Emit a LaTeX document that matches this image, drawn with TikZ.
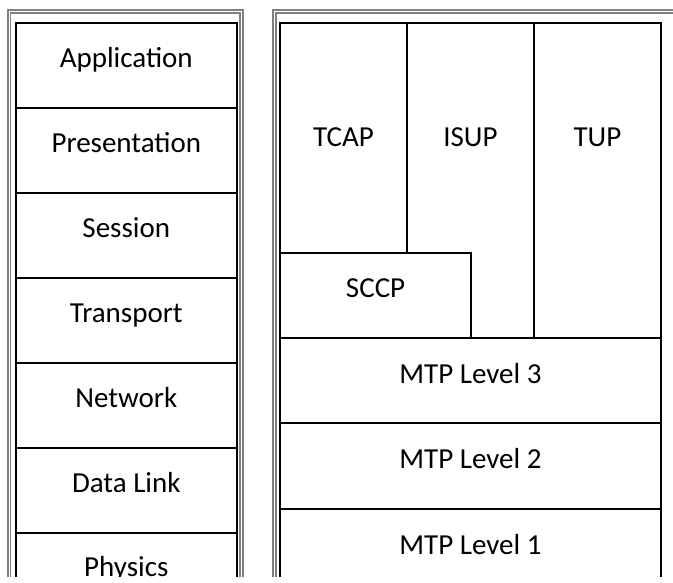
\documentclass[tikz,border=0pt]{standalone}
\usepackage{fontspec}
\setmainfont{Carlito}
\begin{document}
\begin{tikzpicture}[x=1pt,y=-1pt,
  frame/.style={draw=gray,line width=2pt,double=white,double distance=0.8pt},
  layerbox/.style={draw=black,line width=2pt},
  lbl/.style={anchor=base,inner sep=0pt,font=\fontsize{29}{34}\selectfont}]
\useasboundingbox (0,0) rectangle (673,582);
\fill[white] (0,0) rectangle (673,582);
\begin{scope}
\clip (0,0) rectangle (673,576.5);
% outer frames
\draw[frame] (9,600) -- (9,11.8) -- (241.7,11.8) -- (241.7,600);
\draw[frame] (274.3,600) -- (274.3,11.8) -- (690,11.8);
% left column (OSI)
\draw[layerbox] (15.7,600) -- (15.7,23) -- (237,23) -- (237,600);
\foreach \k in {1,...,6} {
  \draw[layerbox] (15.7,{23+85.05*\k}) -- (237,{23+85.05*\k});
}
% right column (SS7)
\draw[layerbox] (280.3,600) -- (280.3,23) -- (660.7,23) -- (660.7,600);
\draw[layerbox] (406.7,23) -- (406.7,253);
\draw[layerbox] (534,23) -- (534,337.7);
\draw[layerbox] (280.3,253) -- (471,253) -- (471,337.7);
\draw[layerbox] (280.3,337.7) -- (660.7,337.7);
\draw[layerbox] (280.3,423.3) -- (660.7,423.3);
\draw[layerbox] (280.3,509) -- (660.7,509);
% labels
\node[lbl] (app) at (126.3,67) {Application};
\node[lbl] (pre) at (126.3,152) {Presentation};
\node[lbl] (ses) at (126.3,237) {Session};
\node[lbl] (tra) at (126.3,322) {Transport};
\node[lbl] (net) at (126.3,407.5) {Network};
\node[lbl] (dl) at (126.3,492.5) {Data Link};
\node[lbl] (phy) at (126.3,576) {Physics};
\node[lbl] (tcap) at (343.5,146) {TCAP};
\node[lbl] (isup) at (470.4,146) {ISUP};
\node[lbl] (tup) at (597.4,146) {TUP};
\node[lbl] (sccp) at (375.6,297) {SCCP};
\node[lbl] (mtp3) at (470.5,383) {MTP Level 3};
\node[lbl] (mtp2) at (470.5,468.5) {MTP Level 2};
\node[lbl] (mtp1) at (470.5,554) {MTP Level 1};
\end{scope}
\end{tikzpicture}
\end{document}
